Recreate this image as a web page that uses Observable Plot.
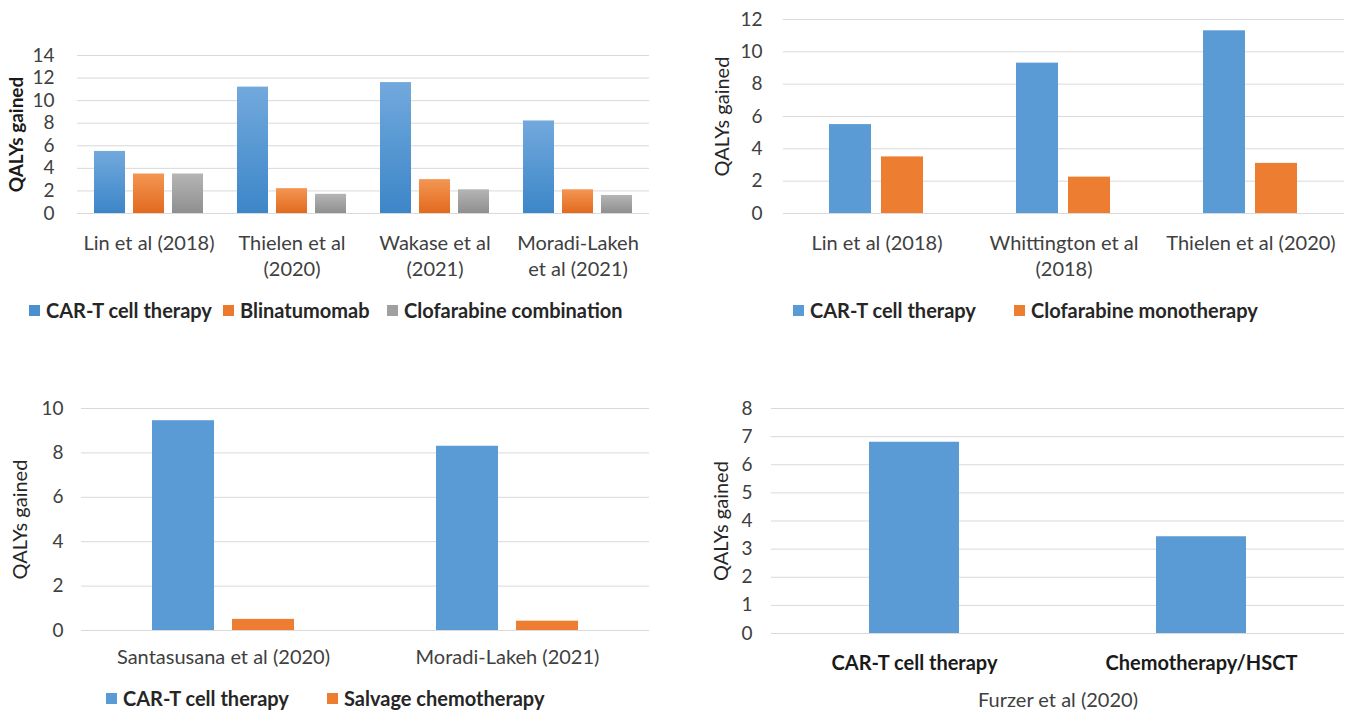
<!DOCTYPE html>
<html>
<head>
<meta charset="utf-8">
<script src="https://cdn.jsdelivr.net/npm/d3@7"></script>
<script src="https://cdn.jsdelivr.net/npm/@observablehq/plot@0.6"></script>
<style>
  html, body { margin: 0; padding: 0; background: #ffffff; }
  #page { position: relative; width: 1348px; height: 712px; overflow: hidden; background: #ffffff; font-family: Lato, "Open Sans", sans-serif; }
  .panel { position: absolute; }
  .panel svg { overflow: visible; }
  .leg { position: absolute; display: flex; align-items: center; white-space: nowrap; font-weight: 700; font-size: 20px; color: #262626; transform: translateY(-50%); line-height: 1; }
  .sw { display: inline-block; width: 11px; height: 11px; margin-right: 6px; flex: none; }
</style>
</head>
<body>
<div id="page"></div>
<script>
// ---------- Panel 1 data ----------
const studies1 = ["Lin et al (2018)", "Thielen et al (2020)", "Wakase et al (2021)", "Moradi-Lakeh et al (2021)"];
const studyLabels1 = ["Lin et al (2018)", "Thielen et al\n(2020)", "Wakase et al\n(2021)", "Moradi-Lakeh\net al (2021)"];
const series1 = ["CAR-T cell therapy", "Blinatumomab", "Clofarabine combination"];
const carT1 = [5.5, 11.2, 11.6, 8.2];
const blina1 = [3.5, 2.2, 3.0, 2.1];
const clofComb1 = [3.5, 1.7, 2.1, 1.6];
const yTicks1 = [0, 2, 4, 6, 8, 10, 12, 14];

// ---------- Panel 2 data ----------
const studies2 = ["Lin et al (2018)", "Whittington et al (2018)", "Thielen et al (2020)"];
const studyLabels2 = ["Lin et al (2018)", "Whittington et al\n(2018)", "Thielen et al (2020)"];
const series2 = ["CAR-T cell therapy", "Clofarabine monotherapy"];
const carT2 = [5.5, 9.3, 11.3];
const clofMono2 = [3.5, 2.25, 3.1];
const yTicks2 = [0, 2, 4, 6, 8, 10, 12];

// ---------- Panel 3 data ----------
const studies3 = ["Santasusana et al (2020)", "Moradi-Lakeh (2021)"];
const series3 = ["CAR-T cell therapy", "Salvage chemotherapy"];
const carT3 = [9.45, 8.3];
const salvage3 = [0.5, 0.42];
const yTicks3 = [0, 2, 4, 6, 8, 10];

// ---------- Panel 4 data ----------
const therapies4 = ["CAR-T cell therapy", "Chemotherapy/HSCT"];
const qalys4 = [6.8, 3.44];
const yTicks4 = [0, 1, 2, 3, 4, 5, 6, 7, 8];
const caption4 = "Furzer et al (2020)";

const yLabel = "QALYs gained";

// colours
const BLUE = "#5b9bd5", ORANGE = "#ed7d31", GRAY = "#a5a5a5";
const GRID = "#d9d9d9", TICK = "#404040";
const FONT = "Lato, 'Open Sans', sans-serif";

const page = document.getElementById("page");

function place(el, left, top) {
  const d = document.createElement("div");
  d.className = "panel";
  d.style.left = left + "px";
  d.style.top = top + "px";
  d.appendChild(el);
  page.appendChild(d);
}

function legend(items, top) {
  for (const [left, color, label] of items) {
    const d = document.createElement("div");
    d.className = "leg";
    d.style.left = left + "px";
    d.style.top = top + "px";
    const sw = document.createElement("span");
    sw.className = "sw";
    sw.style.background = color;
    const t = document.createElement("span");
    t.textContent = label;
    d.appendChild(sw);
    d.appendChild(t);
    page.appendChild(d);
  }
}

function addGradients(svg, grads) {
  const ns = "http://www.w3.org/2000/svg";
  const defs = document.createElementNS(ns, "defs");
  for (const [id, c0, c1] of grads) {
    const g = document.createElementNS(ns, "linearGradient");
    g.setAttribute("id", id);
    g.setAttribute("x1", "0"); g.setAttribute("y1", "0");
    g.setAttribute("x2", "0"); g.setAttribute("y2", "1");
    const s0 = document.createElementNS(ns, "stop");
    s0.setAttribute("offset", "0"); s0.setAttribute("stop-color", c0);
    const s1 = document.createElementNS(ns, "stop");
    s1.setAttribute("offset", "1"); s1.setAttribute("stop-color", c1);
    g.appendChild(s0); g.appendChild(s1);
    defs.appendChild(g);
  }
  svg.insertBefore(defs, svg.firstChild);
}

function tidy(studies, series, columns) {
  return studies.flatMap((s, i) => series.map((k, j) => ({study: s, series: k, value: columns[j][i]})));
}

// ---------- Panel 1 ----------
const data1 = tidy(studies1, series1, [carT1, blina1, clofComb1]);
const p1 = Plot.plot({
  width: 660, height: 290,
  marginLeft: 76, marginRight: 11, marginTop: 55, marginBottom: 77,
  style: {fontFamily: FONT, background: "transparent"},
  fx: {domain: studies1, padding: 0, label: null},
  x: {domain: series1, axis: null, paddingInner: 0.2, paddingOuter: 0.39},
  y: {domain: [0, 14]},
  color: {domain: series1, range: ["url(#g1blue)", "url(#g1orange)", "url(#g1gray)"]},
  marks: [
    Plot.gridY(yTicks1, {stroke: GRID, strokeOpacity: 1, strokeWidth: 1}),
    Plot.axisY(yTicks1, {tickSize: 0, tickPadding: 23, fontSize: 19, fill: TICK, label: null}),
    Plot.axisY([], {tickSize: 0, label: yLabel, labelAnchor: "center", labelArrow: "none", labelOffset: 68, fontSize: 19, fontWeight: "bold", fill: "#1a1a1a"}),
    Plot.axisFx({anchor: "bottom", tickSize: 0, tickPadding: 18, fontSize: 20, lineHeight: 1.3, fill: TICK, label: null,
      tickFormat: d => studyLabels1[studies1.indexOf(d)]}),
    Plot.barY(data1, {fx: "study", x: "series", y: "value", fill: "series"})
  ]
});
addGradients(p1, [["g1blue", "#72a9dd", "#3c86c8"], ["g1orange", "#f39653", "#e26a1e"], ["g1gray", "#b5b5b5", "#8f8f8f"]]);
place(p1, 0, 0);
legend([[29, "#4a8fd0", series1[0]], [223, "#ec7a2c", series1[1]], [387, "#a0a0a0", series1[2]]], 310);

// ---------- Panel 2 ----------
const data2 = tidy(studies2, series2, [carT2, clofMono2]);
const p2 = Plot.plot({
  width: 668, height: 290,
  marginLeft: 102, marginRight: 4, marginTop: 19, marginBottom: 77,
  style: {fontFamily: FONT, background: "transparent"},
  fx: {domain: studies2, padding: 0, label: null},
  x: {domain: series2, axis: null, paddingInner: 0.19, paddingOuter: 0.87},
  y: {domain: [0, 12]},
  color: {domain: series2, range: [BLUE, ORANGE]},
  marks: [
    Plot.gridY(yTicks2, {stroke: GRID, strokeOpacity: 1, strokeWidth: 1}),
    Plot.axisY(yTicks2, {tickSize: 0, tickPadding: 21, fontSize: 19, fill: TICK, label: null}),
    Plot.axisY([], {tickSize: 0, label: yLabel, labelAnchor: "center", labelArrow: "none", labelOffset: 69, fontSize: 20, fill: "#262626"}),
    Plot.axisFx({anchor: "bottom", tickSize: 0, tickPadding: 18, fontSize: 20, lineHeight: 1.3, fill: TICK, label: null,
      tickFormat: d => studyLabels2[studies2.indexOf(d)]}),
    Plot.barY(data2, {fx: "study", x: "series", y: "value", fill: "series"})
  ]
});
place(p2, 680, 0);
legend([[793, BLUE, series2[0]], [1014, ORANGE, series2[1]]], 310);

// ---------- Panel 3 ----------
const data3 = tidy(studies3, series3, [carT3, salvage3]);
const p3 = Plot.plot({
  width: 660, height: 332,
  marginLeft: 80, marginRight: 11, marginTop: 28, marginBottom: 82,
  style: {fontFamily: FONT, background: "transparent"},
  fx: {domain: studies3, padding: 0, label: null},
  x: {domain: series3, axis: null, paddingInner: 0.23, paddingOuter: 0.877},
  y: {domain: [0, 10]},
  color: {domain: series3, range: [BLUE, ORANGE]},
  marks: [
    Plot.gridY(yTicks3, {stroke: GRID, strokeOpacity: 1, strokeWidth: 1}),
    Plot.axisY(yTicks3, {tickSize: 0, tickPadding: 18, fontSize: 19, fill: TICK, label: null}),
    Plot.axisY([], {tickSize: 0, label: yLabel, labelAnchor: "center", labelArrow: "none", labelOffset: 69, fontSize: 20, fill: "#262626"}),
    Plot.axisFx({anchor: "bottom", tickSize: 0, tickPadding: 19, fontSize: 20, fill: TICK, label: null}),
    Plot.barY(data3, {fx: "study", x: "series", y: "value", fill: "series"})
  ]
});
place(p3, 0, 380);
legend([[106, BLUE, series3[0]], [327, ORANGE, series3[1]]], 698);

// ---------- Panel 4 ----------
const data4 = therapies4.map((t, i) => ({therapy: t, value: qalys4[i]}));
const p4 = Plot.plot({
  width: 668, height: 332,
  marginLeft: 91, marginRight: 4, marginTop: 28, marginBottom: 79,
  style: {fontFamily: FONT, background: "transparent"},
  x: {domain: therapies4, paddingInner: 0.685, paddingOuter: 0.34},
  y: {domain: [0, 8]},
  marks: [
    Plot.gridY(yTicks4, {stroke: GRID, strokeOpacity: 1, strokeWidth: 1}),
    Plot.axisY(yTicks4, {tickSize: 0, tickPadding: 19, fontSize: 19, fill: TICK, label: null}),
    Plot.axisY([], {tickSize: 0, label: yLabel, labelAnchor: "center", labelArrow: "none", labelOffset: 58, fontSize: 20, fill: "#262626"}),
    Plot.axisX({tickSize: 0, tickPadding: 22, fontSize: 20, fontWeight: "bold", fill: "#1a1a1a", label: null}),
    Plot.axisX([], {tickSize: 0, label: caption4, labelAnchor: "center", labelArrow: "none", labelOffset: 73, fontSize: 20, fill: TICK}),
    Plot.barY(data4, {x: "therapy", y: "value", fill: BLUE})
  ]
});
place(p4, 680, 380);
</script>
</body>
</html>
